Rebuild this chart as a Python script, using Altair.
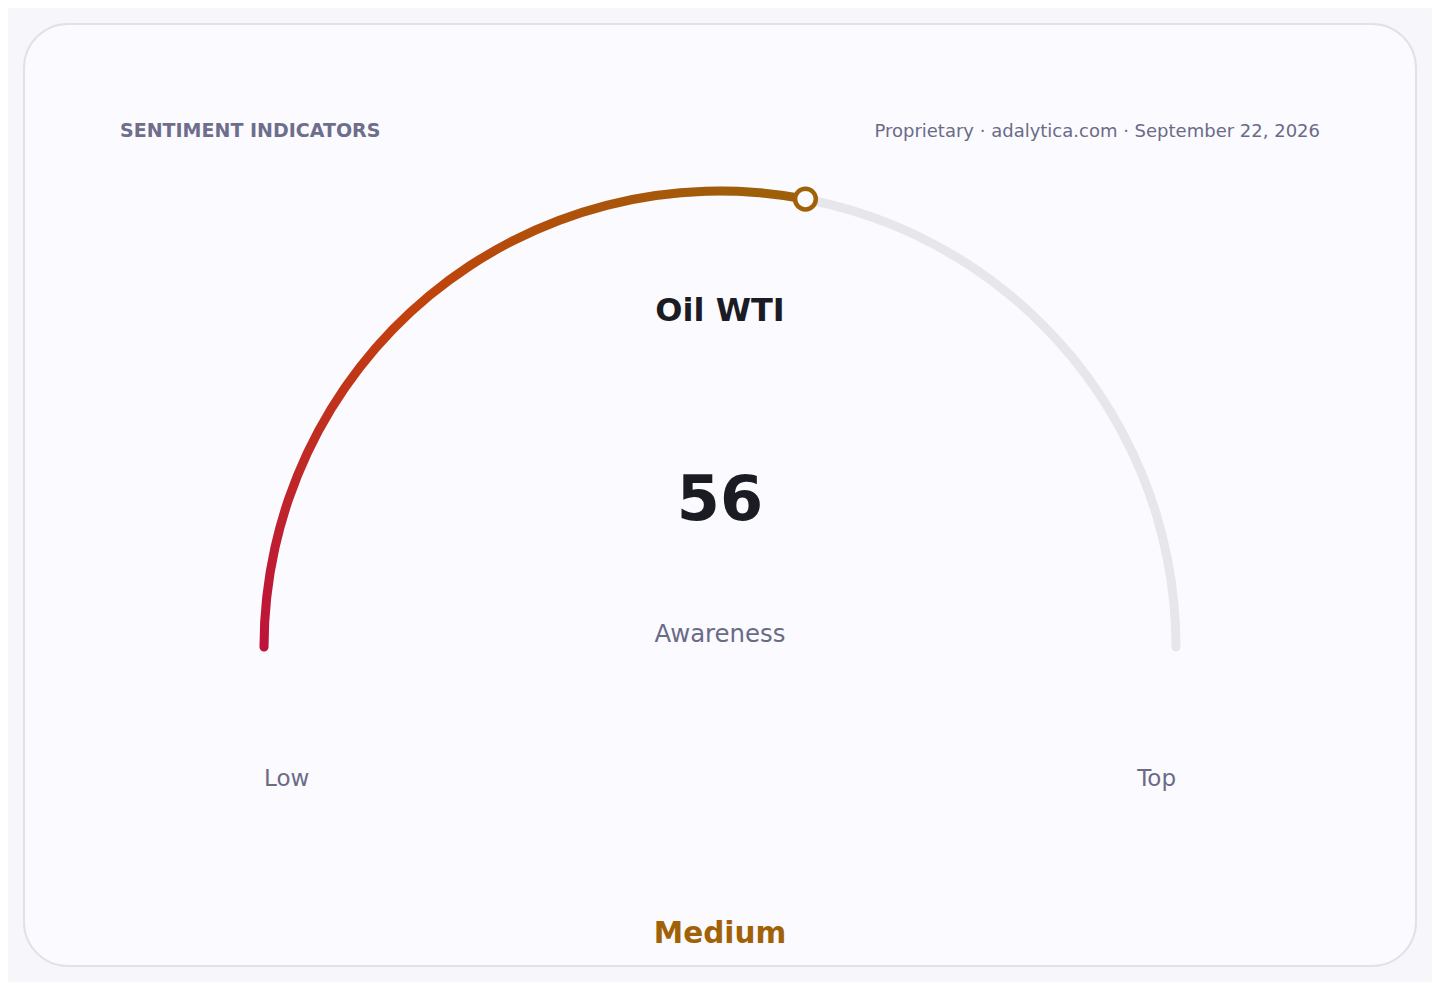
import math
import altair as alt
import pandas as pd

# ---- data ----
header_left = ["SENTIMENT INDICATORS"]
header_right = ["Proprietary · adalytica.com · September 22, 2026"]
instrument = ["Oil WTI"]
metric = ["Awareness"]
values = [56]
band = ["Medium"]
scale_ends = [0, 100]
end_labels = ["Low", "Top"]

# ---- layout constants (pixels inside the card) ----
W, H = 1392, 942
CX, CY, R = 696, 623, 456
THICK = 9

xdom = [-CX / R, (W - CX) / R]
ydom = [-(H - CY) / R, CY / R]
xs = alt.Scale(domain=xdom)
ys = alt.Scale(domain=ydom)
ts = alt.Scale(domain=scale_ends, range=[1.5 * math.pi, 2.5 * math.pi])

# round-cap overhang expressed in value units
CAPV = (THICK / 2 / R) / math.pi * (scale_ends[1] - scale_ends[0])

FONT = "DejaVu Sans"
GREY = "#6b6b86"
DARK = "#1b1b24"
ACCENT = "#a16207"
CARD = "#fafaff"

track_df = pd.DataFrame({"start": [scale_ends[0]], "end": [scale_ends[1]]})
fill_df = pd.DataFrame({"start": [scale_ends[0]], "end": values})
val_df = pd.DataFrame({"value": values, "lo": [scale_ends[0]], "hi": [scale_ends[1]]})

center = dict(
    x=alt.X(datum=0, type="quantitative", scale=xs, axis=None),
    y=alt.Y(datum=0, type="quantitative", scale=ys, axis=None),
)


def arc(df, **mk):
    return alt.Chart(df).transform_calculate(
        s=f"datum.start - {CAPV}",
        e=f"datum.end + {CAPV}",
    ).mark_arc(
        radius=R + THICK / 2, radius2=R - THICK / 2, cornerRadius=THICK / 2, **mk
    ).encode(
        theta=alt.Theta("s:Q", scale=ts),
        theta2="e:Q",
        **center,
    )


track = arc(track_df, color="#e6e6eb")

gradient = {
    "gradient": "linear",
    "x1": 0, "y1": 1, "x2": 1, "y2": 0,
    "stops": [
        {"offset": 0, "color": "#be123c"},
        {"offset": 0.5, "color": "#c2410c"},
        {"offset": 1, "color": "#9a6208"},
    ],
}

fill = arc(fill_df, fill=gradient)

marker = alt.Chart(val_df).transform_calculate(
    frac="(datum.value - datum.lo) / (datum.hi - datum.lo)",
).transform_calculate(
    px="-cos(PI * datum.frac)",
    py="sin(PI * datum.frac)",
).mark_point(
    shape="circle", filled=True, fill=CARD, stroke=ACCENT, strokeWidth=4.5,
    size=430, opacity=1
).encode(
    x=alt.X("px:Q", scale=xs, axis=None),
    y=alt.Y("py:Q", scale=ys, axis=None),
)


def txt(lst, x, y, size, color, weight="normal", align="center"):
    df = pd.DataFrame({"t": lst})
    return alt.Chart(df).mark_text(
        font=FONT, fontSize=size, fontWeight=weight, color=color,
        align=align, baseline="alphabetic"
    ).encode(text="t:N", x=alt.value(x), y=alt.value(y))


texts = [
    txt(header_left, 96, 113, 19, "#6e6e8c", "bold", "left"),
    txt(header_right, 1296, 113, 18, GREY, "normal", "right"),
    txt(instrument, CX, 297, 32, DARK, "bold"),
    txt([str(v) for v in values], CX, 496, 62, DARK, "bold"),
    txt(metric, CX, 618, 24.4, GREY),
    txt([end_labels[0]], CX - R, 762, 23, GREY, "normal", "left"),
    txt([end_labels[1]], CX + R, 762, 23, GREY, "normal", "right"),
    txt(band, CX, 919, 29.5, ACCENT, "bold"),
]

chart = alt.layer(track, fill, marker, *texts).properties(
    width=W, height=H, padding=16, autosize="none", background="#f6f6fb"
).configure_view(
    fill=CARD, stroke="#e1e1ec", strokeWidth=2, cornerRadius=44
)

chart.save("out.html", embed_options={"renderer": "svg", "actions": False})
